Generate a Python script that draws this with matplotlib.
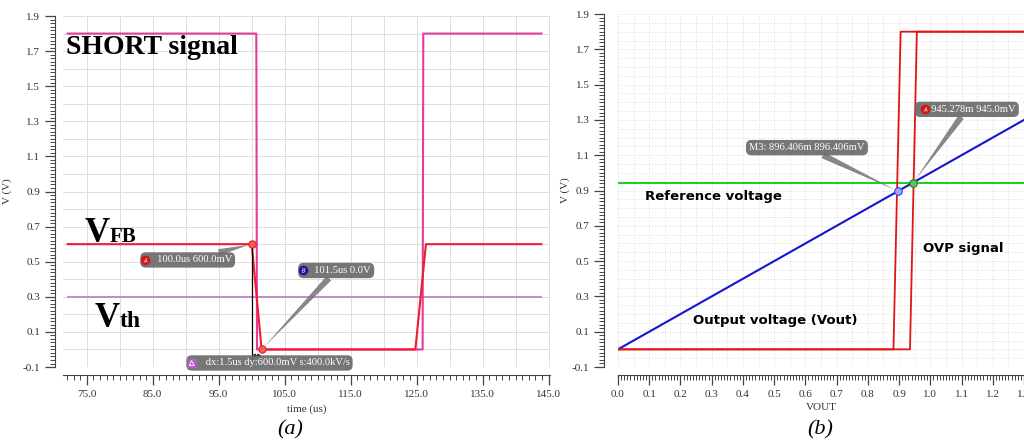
import numpy as np
import matplotlib.pyplot as plt
from matplotlib.ticker import MultipleLocator, FixedLocator, FormatStrFormatter

# ---- panel (a): SHORT / VFB / Vth vs time ----
t_short = [72.1, 100.7, 100.8, 125.9, 126.0, 143.9]
v_short = [1.8, 1.8, 0.0, 0.0, 1.8, 1.8]
t_vfb = [72.1, 100.0, 101.5, 124.8, 126.4, 143.9]
v_vfb = [0.6, 0.6, 0.0, 0.0, 0.6, 0.6]
t_vth = [72.1, 143.9]
v_vth = [0.3, 0.3]
mark_a = (100.0, 0.6)
mark_b = (101.5, 0.0)
xticks_a = [75.0, 85.0, 95.0, 105.0, 115.0, 125.0, 135.0, 145.0]

# ---- panel (b): OVP vs VOUT ----
vout_x = [0.0, 1.3]
vout_y = [0.0, 1.3]
ref_x = [0.0, 1.3]
ref_y = [0.945, 0.945]
ovp1_x = [0.0, 0.882, 0.905, 1.3]
ovp1_y = [0.0, 0.0, 1.8, 1.8]
ovp2_x = [0.0, 0.935, 0.957, 1.3]
ovp2_y = [0.0, 0.0, 1.8, 1.8]
mark_m3 = (0.896406, 0.896406)
mark_ref = (0.945278, 0.945)
xticks_b = [0.0, 0.1, 0.2, 0.3, 0.4, 0.5, 0.6, 0.7, 0.8, 0.9, 1.0, 1.1, 1.2, 1.3]
yticks = [-0.1, 0.1, 0.3, 0.5, 0.7, 0.9, 1.1, 1.3, 1.5, 1.7, 1.9]

plt.rcParams['font.family'] = ['Liberation Serif', 'DejaVu Serif']
plt.rcParams['axes.unicode_minus'] = False

fig = plt.figure(figsize=(10.24, 4.44), dpi=100)
ax1 = fig.add_axes([0.0615, 0.1734, 0.4756, 0.7905])
ax2 = fig.add_axes([0.6035, 0.1734, 0.3965, 0.7950])

LABEL_FS = 7.6


def style_axes(ax, xticks, xminor, xgrid_step, ygrid_step, grid_ls):
    ax.set_ylim(-0.1, 1.9)
    for s in ['top', 'right']:
        ax.spines[s].set_visible(False)
    ax.spines['left'].set_position(('outward', 6))
    ax.spines['bottom'].set_position(('outward', 6))
    ax.spines['left'].set_color('#444444')
    ax.spines['bottom'].set_color('#444444')
    ax.yaxis.set_major_locator(FixedLocator(yticks))
    ax.yaxis.set_minor_locator(MultipleLocator(0.02))
    ax.yaxis.set_major_formatter(FormatStrFormatter('%.1f'))
    ax.xaxis.set_major_locator(FixedLocator(xticks))
    ax.xaxis.set_minor_locator(MultipleLocator(xminor))
    ax.xaxis.set_major_formatter(FormatStrFormatter('%.1f'))
    ax.tick_params(which='major', length=7, width=0.9, color='#444444',
                   labelsize=8, labelcolor='#333333')
    ax.tick_params(which='minor', length=3.5, width=0.7, color='#444444')
    x0, x1 = ax.get_xlim()
    for gx in np.arange(np.ceil(x0 / xgrid_step) * xgrid_step, x1 + 1e-9, xgrid_step):
        ax.axvline(gx, color='#dddddd', lw=0.7, ls=grid_ls, zorder=0)
    for gy in np.arange(-0.1, 1.9 + 1e-9, ygrid_step):
        ax.axhline(gy, color='#dddddd', lw=0.7, ls=grid_ls, zorder=0)


def marker_label(ax, xy, xytext, text, icon=None, icon_color=None, icon_xy=None):
    ax.annotate(text, xy=xy, xytext=xytext, ha='center', va='center',
                fontsize=LABEL_FS, color='white', zorder=6, annotation_clip=False,
                bbox=dict(boxstyle='round,pad=0.3,rounding_size=0.5',
                          fc='#6a6a6a', ec='none', alpha=0.92),
                arrowprops=dict(arrowstyle='wedge,tail_width=0.6,shrink_factor=0.5',
                                fc='#7a7a7a', ec='none', alpha=0.9,
                                shrinkA=0, shrinkB=2))
    if icon:
        ax.scatter(*icon_xy, s=36, marker='o', color=icon_color, zorder=7,
                   clip_on=False)
        ax.scatter(*icon_xy, s=9, marker=icon, color='white', lw=0, zorder=8,
                   clip_on=False)


# ---------------- panel (a) ----------------
ax1.set_xlim(71.4, 145.2)
style_axes(ax1, xticks_a, 1.0, 5.0, 0.1, '-')
ax1.plot(t_vth, v_vth, color='#c77fc7', lw=1.3, zorder=2)
ax1.plot(t_short, v_short, color='#e33c9a', lw=1.5, zorder=3)
ax1.plot(t_vfb, v_vfb, color='#ee1c2e', lw=1.5, zorder=4)
ax1.set_xlabel('time (us)', fontsize=8, color='#333333', labelpad=4)
ax1.set_ylabel('V (V)', fontsize=8, color='#333333')
ax1.yaxis.set_label_coords(-0.105, 0.5)

# cursor measurement
ax1.plot([mark_a[0], mark_a[0]], [mark_a[1], -0.07], color='black', lw=0.9,
         zorder=5, clip_on=False)
ax1.annotate('', xy=(mark_a[0], -0.035), xytext=(mark_b[0], -0.035),
             arrowprops=dict(arrowstyle='<->', color='black', lw=0.8,
                             shrinkA=0, shrinkB=0, mutation_scale=5), zorder=5)
ax1.scatter(*mark_a, s=28, color='#ff5a5a', edgecolor='#e02020', lw=0.8, zorder=6)
ax1.scatter(*mark_b, s=28, color='#ff5a5a', edgecolor='#e02020', lw=0.8, zorder=6)
marker_label(ax1, mark_a, (90.3, 0.51), '     100.0us 600.0mV', '$A$', '#d01818',
             (83.9, 0.51))
marker_label(ax1, mark_b, (112.8, 0.45), '     101.5us 0.0V', '$B$', '#1a1a9a',
             (107.8, 0.45))
ax1.text(102.7, -0.077, '      dx:1.5us dy:600.0mV s:400.0kV/s', ha='center',
         va='center', fontsize=LABEL_FS, color='white', zorder=6, clip_on=False,
         bbox=dict(boxstyle='round,pad=0.3,rounding_size=0.5', fc='#6a6a6a',
                   ec='none', alpha=0.92))
ax1.scatter(90.9, -0.077, s=40, marker='s', color='#b060c0', zorder=7, clip_on=False)
ax1.scatter(90.9, -0.077, s=12, marker='^', facecolor='none', edgecolor='white',
            lw=0.6, zorder=8, clip_on=False)

ax1.text(71.8, 1.72, 'SHORT signal', fontsize=20, fontweight='bold',
         ha='left', va='center', color='black', zorder=8)
ax1.text(74.7, 0.612, 'V', fontsize=25, fontweight='bold', ha='left',
         va='baseline', zorder=8)
ax1.text(78.5, 0.612, 'FB', fontsize=15, fontweight='bold', ha='left',
         va='baseline', zorder=8)
ax1.text(76.2, 0.128, 'V', fontsize=25, fontweight='bold', ha='left',
         va='baseline', zorder=8)
ax1.text(80.0, 0.128, 'th', fontsize=17, fontweight='bold', ha='left',
         va='baseline', zorder=8)

# ---------------- panel (b) ----------------
ax2.set_xlim(0.0, 1.3)
style_axes(ax2, xticks_b, 0.01, 0.05, 0.05, ':')
ax2.spines['left'].set_position(('outward', 10))
ax2.plot(ref_x, ref_y, color='#1ed21e', lw=1.5, zorder=2)
ax2.plot(vout_x, vout_y, color='#1414d2', lw=1.5, zorder=3)
ax2.plot(ovp1_x, ovp1_y, color='#e31414', lw=1.3, zorder=4)
ax2.plot(ovp2_x, ovp2_y, color='#e31414', lw=1.3, zorder=4)
ax2.set_xlabel('VOUT', fontsize=8, color='#333333', labelpad=3)
ax2.set_ylabel('V (V)', fontsize=8, color='#333333')
ax2.yaxis.set_label_coords(-0.118, 0.5)

ax2.scatter(*mark_m3, s=30, color='#a0a0ff', edgecolor='#4040e0', lw=0.8, zorder=6)
ax2.scatter(*mark_ref, s=30, color='#60c060', edgecolor='#208020', lw=0.8, zorder=6)
marker_label(ax2, mark_m3, (0.605, 1.143), 'M3: 896.406m 896.406mV')
marker_label(ax2, mark_ref, (1.117, 1.36), '     945.278m 945.0mV', '$A$', '#d01818',
             (0.982, 1.36))

sans = ['DejaVu Sans']
ax2.text(0.305, 0.865, 'Reference voltage', fontsize=9.5, fontweight='bold',
         family=sans, ha='center', va='center', zorder=8)
ax2.text(0.505, 0.166, 'Output voltage (Vout)', fontsize=9.5, fontweight='bold',
         family=sans, ha='center', va='center', zorder=8)
ax2.text(1.105, 0.57, 'OVP signal', fontsize=9.5, fontweight='bold',
         family=sans, ha='center', va='center', zorder=8)

fig.text(290 / 1024, 1 - 430 / 444, '(a)', fontsize=16, style='italic',
         ha='center', va='center')
fig.text(820 / 1024, 1 - 430 / 444, '(b)', fontsize=16, style='italic',
         ha='center', va='center')

fig.savefig('out.png', dpi=100)
